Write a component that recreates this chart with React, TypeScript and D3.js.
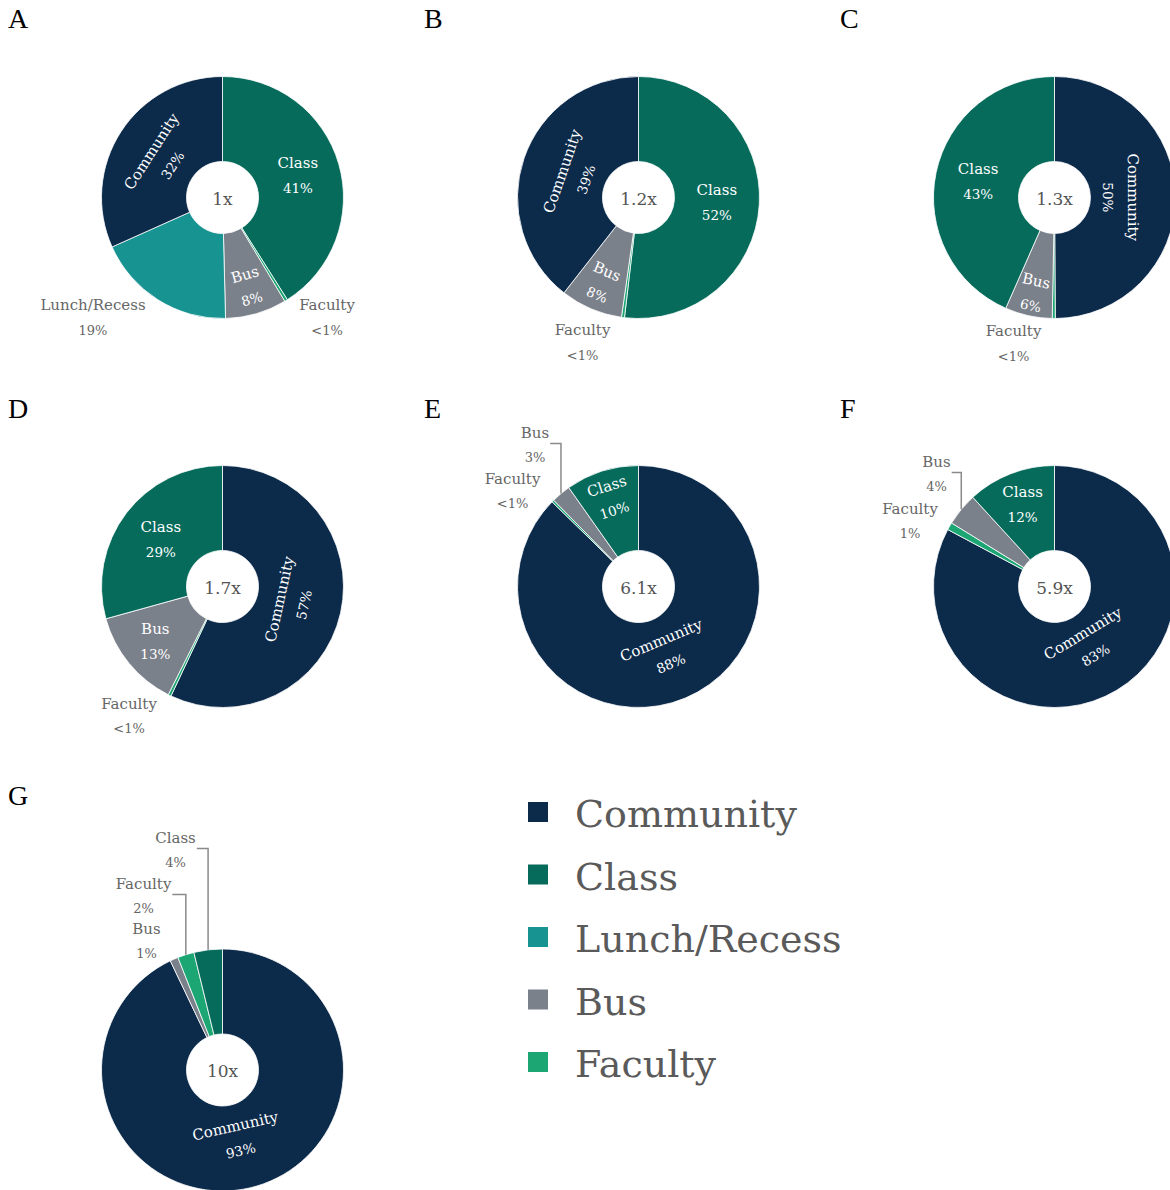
import React, { useEffect, useRef } from "react";
import * as d3 from "d3";

// ---------- data ----------
const categories = ["Community", "Class", "Lunch/Recess", "Bus", "Faculty"];
const categoryColors = ["#0c2a4a", "#066b5b", "#179391", "#7b818b", "#1ba673"];
const panelLetters = ["A", "B", "C", "D", "E", "F", "G"];
const multipliers = ["1x", "1.2x", "1.3x", "1.7x", "6.1x", "5.9x", "10x"];

// slice order (clockwise from 12 o'clock) and shares (%) per panel
const sliceOrderA = ["Class", "Faculty", "Bus", "Lunch/Recess", "Community"];
const valuesA = [41.0, 0.4, 8.2, 18.7, 31.7];
const sliceOrderB = ["Class", "Faculty", "Bus", "Community"];
const valuesB = [51.8, 0.4, 8.3, 39.4];
const sliceOrderC = ["Community", "Faculty", "Bus", "Class"];
const valuesC = [49.9, 0.4, 6.3, 43.4];
const sliceOrderD = ["Community", "Faculty", "Bus", "Class"];
const valuesD = [57.0, 0.4, 13.3, 29.3];
const sliceOrderE = ["Community", "Faculty", "Bus", "Class"];
const valuesE = [87.6, 0.3, 2.6, 9.8];
const sliceOrderF = ["Community", "Faculty", "Bus", "Class"];
const valuesF = [82.8, 1.0, 4.4, 11.8];
const sliceOrderG = ["Community", "Bus", "Faculty", "Class"];
const valuesG = [92.9, 1.1, 2.2, 3.8];

const sliceOrders = [sliceOrderA, sliceOrderB, sliceOrderC, sliceOrderD, sliceOrderE, sliceOrderF, sliceOrderG];
const sliceValues = [valuesA, valuesB, valuesC, valuesD, valuesE, valuesF, valuesG];

// ---------- layout (positions / styles) ----------
type LabelCfg =
  | { mode: "h" | "t"; r: number }
  | { mode: "out"; dx: number; dy: number; leader?: boolean };

const panelLayout: { cx: number; cy: number; lx: number; ly: number; labels: Record<string, LabelCfg> }[] = [
  {
    cx: 222.5, cy: 197.5, lx: 8, ly: 28,
    labels: {
      Class: { mode: "h", r: 78.5 },
      Bus: { mode: "t", r: 93 },
      Community: { mode: "t", r: 72 },
      "Lunch/Recess": { mode: "out", dx: -129.5, dy: 107.5 },
      Faculty: { mode: "out", dx: 104.5, dy: 107.5 },
    },
  },
  {
    cx: 638.5, cy: 197.5, lx: 424, ly: 28,
    labels: {
      Class: { mode: "h", r: 78.5 },
      Bus: { mode: "t", r: 93 },
      Community: { mode: "t", r: 68 },
      Faculty: { mode: "out", dx: -56, dy: 132.5 },
    },
  },
  {
    cx: 1054.5, cy: 197.5, lx: 840, ly: 28,
    labels: {
      Class: { mode: "h", r: 78 },
      Bus: { mode: "t", r: 98 },
      Community: { mode: "t", r: 66 },
      Faculty: { mode: "out", dx: -41, dy: 133.5 },
    },
  },
  {
    cx: 222.5, cy: 586.5, lx: 8, ly: 418,
    labels: {
      Class: { mode: "h", r: 77.5 },
      Bus: { mode: "h", r: 87 },
      Community: { mode: "t", r: 71 },
      Faculty: { mode: "out", dx: -93.5, dy: 117 },
    },
  },
  {
    cx: 638.5, cy: 586.5, lx: 424, ly: 418,
    labels: {
      Community: { mode: "t", r: 71 },
      Class: { mode: "t", r: 92.5 },
      Bus: { mode: "out", dx: -103.5, dy: -154, leader: true },
      Faculty: { mode: "out", dx: -126, dy: -108 },
    },
  },
  {
    cx: 1054.5, cy: 586.5, lx: 840, ly: 418,
    labels: {
      Community: { mode: "t", r: 67.5 },
      Class: { mode: "h", r: 88 },
      Bus: { mode: "out", dx: -118, dy: -125, leader: true },
      Faculty: { mode: "out", dx: -144.5, dy: -78 },
    },
  },
  {
    cx: 222.5, cy: 1070, lx: 8, ly: 805,
    labels: {
      Community: { mode: "t", r: 70 },
      Class: { mode: "out", dx: -47, dy: -232.5, leader: true },
      Faculty: { mode: "out", dx: -79, dy: -186.5, leader: true },
      Bus: { mode: "out", dx: -76, dy: -141.5 },
    },
  },
];

const FONT = "'DejaVu Serif', serif";
const OUTER_R = 121;
const INNER_R = 36;

type Slice = { cat: string; value: number };

const pctLabel = (v: number) => (v < 1 ? "<1%" : `${Math.round(v)}%`);

export default function App() {
  const ref = useRef<SVGSVGElement>(null);

  useEffect(() => {
    const svg = d3.select(ref.current!);
    svg.selectAll("*").remove();

    const color = d3.scaleOrdinal<string, string>().domain(categories).range(categoryColors);
    const pie = d3.pie<Slice>().sort(null).value((d) => d.value);
    const arc = d3.arc<d3.PieArcDatum<Slice>>().innerRadius(INNER_R).outerRadius(OUTER_R);

    panelLetters.forEach((letter, pi) => {
      const lay = panelLayout[pi];
      svg
        .append("text")
        .attr("x", lay.lx)
        .attr("y", lay.ly)
        .attr("font-family", "'Liberation Serif', 'Times New Roman', serif")
        .attr("font-size", 28)
        .attr("fill", "#000")
        .text(letter);

      const data: Slice[] = sliceOrders[pi].map((c, i) => ({ cat: c, value: sliceValues[pi][i] }));
      const arcs = pie(data);
      const g = svg.append("g").attr("transform", `translate(${lay.cx},${lay.cy})`);

      g.selectAll("path.slice")
        .data(arcs)
        .join("path")
        .attr("class", "slice")
        .attr("d", arc as any)
        .attr("fill", (d) => color(d.data.cat))
        .attr("stroke", "#ffffff")
        .attr("stroke-width", 0.8);

      // center label
      g.append("text")
        .attr("x", 0)
        .attr("y", 1)
        .attr("text-anchor", "middle")
        .attr("dominant-baseline", "central")
        .attr("font-family", FONT)
        .attr("font-size", 17)
        .attr("fill", "#555")
        .text(multipliers[pi]);

      arcs.forEach((a) => {
        const cfg = lay.labels[a.data.cat];
        if (!cfg) return;
        const mid = (a.startAngle + a.endAngle) / 2;
        const name = a.data.cat;
        const pct = pctLabel(a.data.value);
        if (cfg.mode === "out") {
          const lg = g.append("g").attr("transform", `translate(${cfg.dx},${cfg.dy})`);
          const nameText = lg
            .append("text")
            .attr("text-anchor", "middle")
            .attr("dominant-baseline", "central")
            .attr("font-family", FONT)
            .attr("font-size", 15)
            .attr("fill", "#666")
            .text(name);
          lg.append("text")
            .attr("y", 25)
            .attr("text-anchor", "middle")
            .attr("dominant-baseline", "central")
            .attr("font-family", FONT)
            .attr("font-size", 13)
            .attr("fill", "#666")
            .text(pct);
          if (cfg.leader) {
            const w = (nameText.node() as SVGTextElement).getComputedTextLength();
            const x0 = cfg.dx + w / 2 + 1;
            const y0 = cfg.dy + 11;
            const px = OUTER_R * Math.sin(mid);
            const py = -OUTER_R * Math.cos(mid);
            const p = d3.path();
            p.moveTo(x0, y0);
            p.lineTo(px, y0);
            p.lineTo(px, py);
            g.append("path")
              .attr("d", p.toString())
              .attr("fill", "none")
              .attr("stroke", "#8a8a8a")
              .attr("stroke-width", 1.5);
          }
        } else {
          const x = cfg.r * Math.sin(mid);
          const y = -cfg.r * Math.cos(mid);
          let rot = 0;
          if (cfg.mode === "t") {
            const deg = (mid * 180) / Math.PI;
            rot = deg > 90 && deg < 270 ? deg - 180 : deg >= 270 ? deg - 360 : deg;
          }
          const lg = g.append("g").attr("transform", `translate(${x},${y}) rotate(${rot})`);
          lg.append("text")
            .attr("y", -12.5)
            .attr("text-anchor", "middle")
            .attr("dominant-baseline", "central")
            .attr("font-family", FONT)
            .attr("font-size", 15)
            .attr("fill", "#fff")
            .text(name);
          lg.append("text")
            .attr("y", 12.5)
            .attr("text-anchor", "middle")
            .attr("dominant-baseline", "central")
            .attr("font-family", FONT)
            .attr("font-size", 13.5)
            .attr("fill", "#fff")
            .text(pct);
        }
      });
    });

    // legend
    const legendY = d3.scaleLinear().domain([0, categories.length - 1]).range([812, 1062]);
    const lg = svg.append("g");
    categories.forEach((c, i) => {
      const y = legendY(i);
      lg.append("rect")
        .attr("x", 528)
        .attr("y", y - 10)
        .attr("width", 20)
        .attr("height", 20)
        .attr("fill", color(c));
      lg.append("text")
        .attr("x", 575)
        .attr("y", y + 2)
        .attr("dominant-baseline", "central")
        .attr("font-family", FONT)
        .attr("font-size", 38)
        .attr("fill", "#5a5a5a")
        .text(c);
    });
  }, []);

  return (
    <svg
      ref={ref}
      width={1170}
      height={1190}
      style={{ position: "absolute", left: 0, top: 0, background: "#fff" }}
    />
  );
}
